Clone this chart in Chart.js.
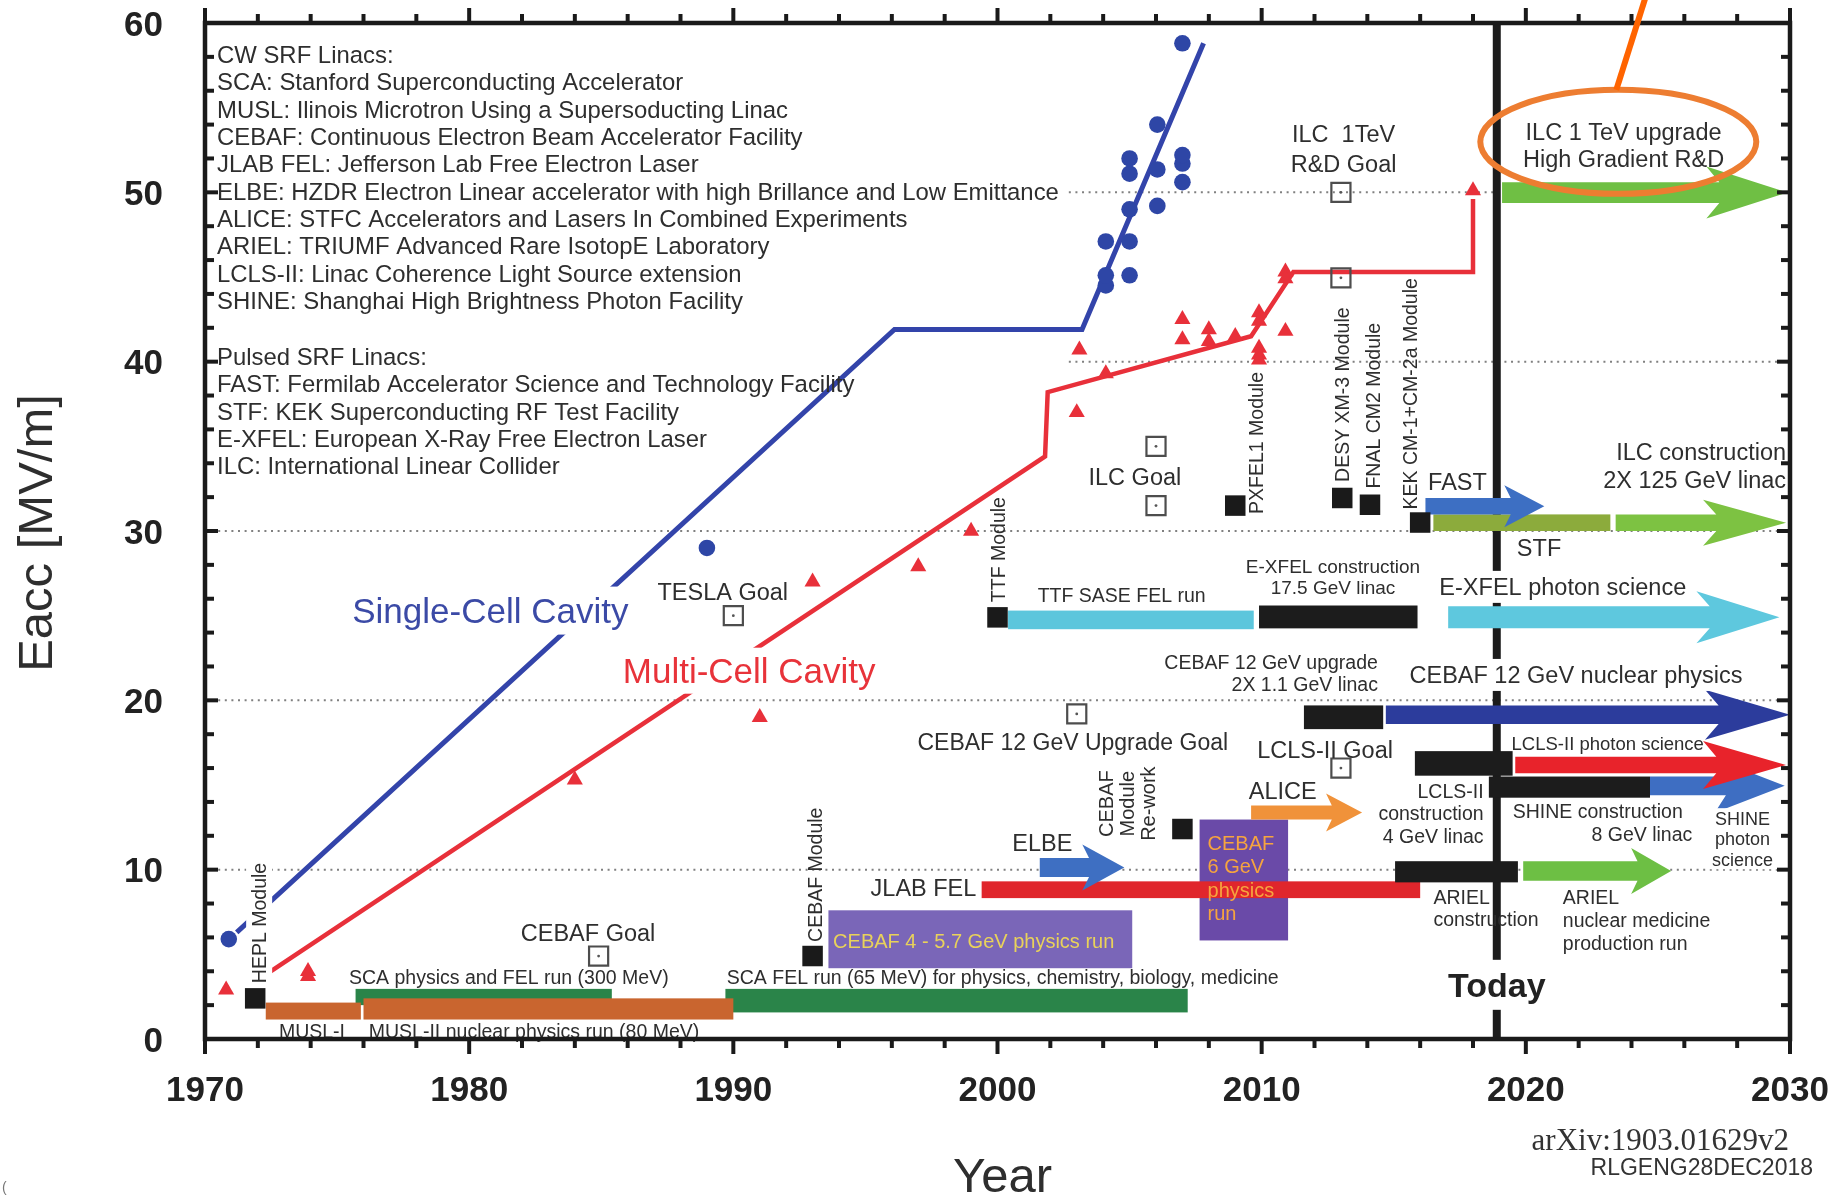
<!DOCTYPE html>
<html>
<head>
<meta charset="utf-8">
<title>SRF cavity gradient progress</title>
<script src="https://cdn.jsdelivr.net/npm/chart.js@4.4.1/dist/chart.umd.min.js"></script>
<style>
  html, body { margin: 0; padding: 0; background: #fff; }
  canvas { display: block; }
</style>
</head>
<body>
<canvas id="srfChart" width="1829" height="1197"></canvas>
<script>
// ---------- data ----------
const xTickLabels = ['1970', '1980', '1990', '2000', '2010', '2020', '2030'];
const yTickLabels = ['0', '10', '20', '30', '40', '50', '60'];
const gridFull = [10, 20, 30];
const gridRight = [40, 50];
const todayYear = 2018.9;

// single-cell cavity results (blue dots) and trend
const singleCellYear = [1970.9, 1989.0, 2004.1, 2004.1, 2004.1, 2005.0, 2005.0, 2005.0, 2005.0, 2005.0, 2006.05, 2006.05, 2006.05, 2007.0, 2007.0, 2007.0, 2007.0];
const singleCellEacc = [5.9, 29.0, 44.5, 45.1, 47.1, 45.1, 47.1, 49.0, 51.1, 52.0, 49.2, 51.35, 54.0, 50.6, 51.7, 52.2, 58.8];
const singleTrendYear = [1971.2, 1996.1, 2003.2, 2007.8];
const singleTrendEacc = [6.3, 41.9, 41.9, 58.8];

// multi-cell cavity results (red triangles) and trend
const multiCellYear = [1970.8, 1973.9, 1973.9, 1984.0, 1991.0, 1993.0, 1997.0, 1999.0, 2003.0, 2003.1, 2004.1, 2007.0, 2007.0, 2008.0, 2008.0, 2009.0, 2009.9, 2009.9, 2009.9, 2009.9, 2009.9, 2010.9, 2010.9, 2010.9];
const multiCellEacc = [2.9, 4.0, 3.7, 15.3, 19.0, 27.0, 27.9, 30.0, 37.0, 40.7, 39.3, 42.5, 41.3, 41.9, 41.2, 41.5, 42.9, 42.4, 40.8, 40.4, 40.1, 41.8, 45.3, 44.9];
const multiTrendYear = [1972.4, 2001.8, 2001.9, 2009.6, 2011.2, 2018.0, 2018.0];
const multiTrendEacc = [3.9, 34.4, 38.2, 41.5, 45.3, 45.3, 49.6];
const multiTipYear = [2018.0];
const multiTipEacc = [50.1];

// goals (open squares)
const goalYear = [1984.9, 1990.0, 2003.0, 2006.0, 2006.0, 2013.0, 2013.0, 2013.0];
const goalEacc = [4.9, 25.0, 19.2, 35.0, 31.5, 50.0, 44.95, 16.0];

// cryomodules (black squares)
const moduleYear = [1971.9, 1993.0, 2000.0, 2007.0, 2009.0, 2013.05, 2014.1, 2016.0];
const moduleEacc = [2.4, 4.9, 24.9, 12.4, 31.5, 31.95, 31.55, 30.5];

// machine runs drawn as plain bars: start, end, Eacc low, Eacc high
const barNames  = ['SCA physics', 'SCA FEL', 'MUSL-I', 'MUSL-II', 'CEBAF 4-5.7', 'CEBAF 6', 'JLAB FEL', 'TTF SASE', 'E-XFEL constr', 'CEBAF 12 upgrade', 'LCLS-II constr', 'SHINE constr', 'ARIEL constr', 'STF'];
const barStart  = [1975.7, 1989.7, 1972.3, 1976.0, 1993.6, 2007.65, 1999.4, 2000.4, 2009.9, 2011.6, 2015.8, 2018.6, 2015.05, 2016.5];
const barEnd    = [1985.4, 2007.2, 1975.9, 1990.0, 2005.1, 2011.0, 2016.0, 2009.7, 2015.9, 2014.6, 2019.5, 2024.7, 2019.7, 2023.2];
const barLow    = [2.0, 1.57, 1.15, 1.15, 4.18, 5.82, 8.32, 24.2, 24.25, 18.3, 15.55, 14.25, 9.25, 30.0];
const barHigh   = [2.96, 2.96, 2.15, 2.4, 7.6, 12.96, 9.31, 25.3, 25.6, 19.7, 17.0, 15.5, 10.5, 30.98];

// programmes drawn as arrows: start, tip, shaft low, shaft high
const arrowNames = ['ELBE', 'ALICE', 'FAST', 'ILC construction', 'E-XFEL photon science', 'CEBAF 12 GeV nuclear physics', 'SHINE photon science', 'LCLS-II photon science', 'ARIEL nuclear medicine', 'ILC 1 TeV upgrade'];
const arrowStart = [2001.6, 2009.6, 2016.2, 2023.4, 2017.06, 2014.7, 2024.7, 2019.6, 2019.9, 2019.1];
const arrowTip   = [2004.8, 2013.8, 2020.7, 2029.85, 2029.6, 2030.0, 2029.8, 2029.85, 2025.5, 2029.9];
const arrowLow   = [9.57, 12.96, 30.98, 30.0, 24.25, 18.6, 14.4, 15.69, 9.35, 49.37];
const arrowHigh  = [10.69, 13.79, 31.95, 30.98, 25.55, 19.7, 15.5, 16.67, 10.49, 50.6];

const cwLines = [
  'CW SRF Linacs:',
  'SCA: Stanford Superconducting Accelerator',
  'MUSL: Ilinois Microtron Using a Supersoducting Linac',
  'CEBAF: Continuous Electron Beam Accelerator Facility',
  'JLAB FEL: Jefferson Lab Free Electron Laser',
  'ELBE: HZDR Electron Linear accelerator with high Brillance and Low Emittance',
  'ALICE: STFC Accelerators and Lasers In Combined Experiments',
  'ARIEL: TRIUMF Advanced Rare IsotopE Laboratory',
  'LCLS-II: Linac Coherence Light Source extension',
  'SHINE: Shanghai High Brightness Photon Facility'
];
const pulsedLines = [
  'Pulsed SRF Linacs:',
  'FAST: Fermilab Accelerator Science and Technology Facility',
  'STF: KEK Superconducting RF Test Facility',
  'E-XFEL: European X-Ray Free Electron Laser',
  'ILC: International Linear Collider'
];

// ---------- styles ----------
const FONT = "'Liberation Sans', Arial, Helvetica, sans-serif";
const INK = '#2e2e2e';
const barColors = ['#2a8449', '#2a8449', '#c9652f', '#c9652f', '#7a66b8', '#6a4aa8', '#e0262c', '#5cc6dc', '#1c1c1c', '#1c1c1c', '#1c1c1c', '#1c1c1c', '#1c1c1c', '#8cab3c'];
const arrowStyle = [
  { color: '#3e6fc2', head: 42, half: 23 },
  { color: '#f0923a', head: 36, half: 19 },
  { color: '#3d6fc3', head: 40, half: 21 },
  { color: '#7dc242', head: 83, half: 23 },
  { color: '#5ec8de', head: 83, half: 26 },
  { color: '#2c3c9c', head: 85, half: 25 },
  { color: '#3e6ec2', head: 70, half: 27 },
  { color: '#e8232b', head: 83, half: 24 },
  { color: '#6dbf44', head: 40, half: 23 },
  { color: '#6fbf44', head: 81, half: 26 }
];

const labels = [
  { t: 'Single-Cell Cavity', x: 1980.8, y: 25.3, size: 35, color: '#3b4aa6', bg: true, bgH: 48 },
  { t: 'Multi-Cell Cavity', x: 1990.6, y: 21.75, size: 35, color: '#e8333a', bg: true, bgH: 46 },
  { t: 'TESLA Goal', x: 1989.6, y: 26.4 },
  { t: 'CEBAF Goal', x: 1984.5, y: 6.3 },
  { t: 'CEBAF 12 GeV Upgrade Goal', x: 2002.85, y: 17.55, size: 23 },
  { t: 'ILC Goal', x: 2005.2, y: 33.2 },
  { t: 'ILC  1TeV\nR&D Goal', x: 2013.1, y: 53.5, lh: 30 },
  { t: 'ILC 1 TeV upgrade\nHigh Gradient R&D', x: 2023.7, y: 53.6, lh: 27 },
  { t: 'TTF SASE FEL run', x: 2004.7, y: 26.25, size: 19.5 },
  { t: 'E-XFEL construction\n17.5 GeV linac', x: 2012.7, y: 27.95, size: 19, lh: 21.5 },
  { t: 'E-XFEL photon science', x: 2021.4, y: 26.7, bg: true, bgH: 32 },
  { t: 'CEBAF 12 GeV upgrade\n2X 1.1 GeV linac', x: 2014.4, y: 22.25, size: 19.5, align: 'right', lh: 21.5 },
  { t: 'CEBAF 12 GeV nuclear physics', x: 2021.9, y: 21.5, bg: true, bgH: 32 },
  { t: 'LCLS-II Goal', x: 2012.4, y: 17.1 },
  { t: 'LCLS-II photon science', x: 2023.1, y: 17.45, size: 18.5 },
  { t: 'ALICE', x: 2010.8, y: 14.65 },
  { t: 'LCLS-II\nconstruction\n4 GeV linac', x: 2018.4, y: 14.65, size: 19.5, align: 'right', lh: 22.5 },
  { t: 'SHINE construction', x: 2019.5, y: 13.47, size: 19.5, align: 'left' },
  { t: '8 GeV linac', x: 2026.3, y: 12.1, size: 19.5, align: 'right' },
  { t: 'SHINE\nphoton\nscience', x: 2028.2, y: 13.04, size: 18, lh: 20.5, bg: true, bgH: 20 },
  { t: 'ELBE', x: 2001.7, y: 11.6 },
  { t: 'JLAB FEL', x: 1999.2, y: 8.93, align: 'right' },
  { t: 'CEBAF 4 - 5.7 GeV physics run', x: 1999.1, y: 5.8, size: 20, color: '#e9d25a' },
  { t: 'CEBAF\n6 GeV\nphysics\nrun', x: 2007.95, y: 11.58, size: 20, color: '#f6a43e', align: 'left', lh: 23.3 },
  { t: 'SCA physics and FEL run (300 MeV)', x: 1981.5, y: 3.65, size: 19.5 },
  { t: 'SCA FEL run (65 MeV) for physics, chemistry, biology, medicine', x: 1989.75, y: 3.65, size: 19.5, align: 'left' },
  { t: 'MUSL-I', x: 1974.05, y: 0.5, size: 19.5 },
  { t: 'MUSL-II nuclear physics run (80 MeV)', x: 1976.2, y: 0.5, size: 19.5, align: 'left' },
  { t: 'ARIEL\nconstruction', x: 2016.5, y: 8.4, size: 19.5, align: 'left', lh: 22.7 },
  { t: 'ARIEL\nnuclear medicine\nproduction run', x: 2021.4, y: 8.4, size: 19.5, align: 'left', lh: 23 },
  { t: 'Today', x: 2018.9, y: 3.2, size: 34, bold: true, color: '#222', bg: true, bgH: 50 },
  { t: 'FAST', x: 2016.3, y: 32.9, align: 'left' },
  { t: 'STF', x: 2020.5, y: 29.0 },
  { t: 'ILC construction\n2X 125 GeV linac', x: 2029.85, y: 34.7, align: 'right', lh: 28.5 },
  { t: 'HEPL Module', x: 1972.05, y: 6.85, size: 19.5, rot: true, bg: true, bgH: 26 },
  { t: 'CEBAF Module', x: 1993.1, y: 9.7, size: 19.5, rot: true },
  { t: 'TTF Module', x: 2000.0, y: 28.9, size: 19.5, rot: true },
  { t: 'CEBAF\nModule\nRe-work', x: 2004.1, y: 13.9, size: 20, rot: true, lh: 21 },
  { t: 'PXFEL1 Module', x: 2009.8, y: 35.2, size: 19.5, rot: true },
  { t: 'DESY XM-3 Module', x: 2013.05, y: 38.05, size: 19.5, rot: true },
  { t: 'FNAL CM2 Module', x: 2014.2, y: 37.4, size: 19.5, rot: true },
  { t: 'KEK CM-1+CM-2a Module', x: 2015.6, y: 38.1, size: 19.5, rot: true }
];

// ---------- helpers ----------
function pts(xs, ys) {
  return xs.map((x, i) => ({ x: x, y: ys[i] }));
}

function drawLabel(ctx, L, px, py) {
  const size = L.size || 23.5;
  const lh = L.lh || size * 1.2;
  const lines = L.t.split('\n');
  const align = L.align || 'center';
  ctx.save();
  ctx.font = (L.bold ? 'bold ' : '') + size + 'px ' + FONT;
  ctx.textAlign = align;
  ctx.textBaseline = 'alphabetic';
  ctx.translate(px, py);
  if (L.rot) ctx.rotate(-Math.PI / 2);
  if (L.bg) {
    const w = Math.max(...lines.map(s => ctx.measureText(s).width)) + 8;
    const bh = L.bgH || size * 1.3;
    const h = bh + (lines.length - 1) * lh;
    const left = align === 'center' ? -w / 2 : align === 'right' ? -w + 4 : -4;
    ctx.fillStyle = '#fff';
    ctx.fillRect(left, -bh / 2, w, h);
  }
  ctx.fillStyle = L.color || INK;
  lines.forEach((s, i) => ctx.fillText(s, 0, i * lh + size * 0.36));
  ctx.restore();
}

function seg(ctx, x0, y0, x1, y1) {
  ctx.beginPath();
  ctx.moveTo(x0, y0);
  ctx.lineTo(x1, y1);
  ctx.stroke();
}

const timelinePlugin = {
  id: 'timeline',
  beforeDatasetsDraw(chart) {
    const { ctx, chartArea: a, scales: { x, y } } = chart;

    // dotted reference lines
    ctx.save();
    ctx.strokeStyle = '#808080';
    ctx.lineWidth = 2;
    ctx.setLineDash([2, 4.6]);
    gridFull.forEach(v => seg(ctx, a.left, y.getPixelForValue(v), a.right, y.getPixelForValue(v)));
    gridRight.forEach(v => seg(ctx, x.getPixelForValue(2002.7), y.getPixelForValue(v), a.right, y.getPixelForValue(v)));
    ctx.restore();

    // today
    ctx.save();
    ctx.strokeStyle = '#1c1c1c';
    ctx.lineWidth = 8;
    const tx = x.getPixelForValue(todayYear);
    seg(ctx, tx, a.top, tx, a.bottom);
    ctx.restore();

    // bars
    ctx.save();
    barNames.forEach((n, i) => {
      const x0 = x.getPixelForValue(barStart[i]);
      const x1 = x.getPixelForValue(barEnd[i]);
      const y0 = y.getPixelForValue(barHigh[i]);
      const y1 = y.getPixelForValue(barLow[i]);
      ctx.fillStyle = barColors[i];
      ctx.fillRect(x0, y0, x1 - x0, y1 - y0);
    });
    ctx.restore();

    // arrows
    ctx.save();
    arrowNames.forEach((n, i) => {
      const st = arrowStyle[i];
      const x0 = x.getPixelForValue(arrowStart[i]);
      const x1 = x.getPixelForValue(arrowTip[i]);
      const yt = y.getPixelForValue(arrowHigh[i]);
      const yb = y.getPixelForValue(arrowLow[i]);
      const yc = (yt + yb) / 2;
      const xh = x1 - st.head;
      const sweep = st.head * 0.16;
      ctx.fillStyle = st.color;
      ctx.beginPath();
      ctx.moveTo(x0, yt);
      ctx.lineTo(xh + sweep, yt);
      ctx.lineTo(xh, yc - st.half);
      ctx.lineTo(x1, yc);
      ctx.lineTo(xh, yc + st.half);
      ctx.lineTo(xh + sweep, yb);
      ctx.lineTo(x0, yb);
      ctx.closePath();
      ctx.fill();
    });
    ctx.restore();
  },

  afterDatasetsDraw(chart) {
    const { ctx, chartArea: a, scales: { x, y } } = chart;

    labels.forEach(L => drawLabel(ctx, L, x.getPixelForValue(L.x), y.getPixelForValue(L.y)));

    // acronym list
    ctx.save();
    ctx.font = '23.9px ' + FONT;
    ctx.fillStyle = INK;
    ctx.textAlign = 'left';
    const lineGap = 27.3;
    cwLines.forEach((s, i) => ctx.fillText(s, a.left + 12, y.getPixelForValue(58.13) + i * lineGap + 8.5));
    pulsedLines.forEach((s, i) => ctx.fillText(s, a.left + 12, y.getPixelForValue(40.3) + i * lineGap + 8.5));
    ctx.restore();

    // frame and ticks
    ctx.save();
    ctx.strokeStyle = '#1a1a1a';
    ctx.lineWidth = 4;
    for (let yr = 1970; yr <= 2030; yr += 2) {
      const px = x.getPixelForValue(yr);
      const len = yr % 10 === 0 ? 15 : 9;
      seg(ctx, px, a.bottom, px, a.bottom + len);
      seg(ctx, px, a.top, px, a.top - len);
    }
    for (let v = 0; v <= 60; v += 2) {
      const py = y.getPixelForValue(v);
      const len = v % 10 === 0 ? 13 : 9;
      seg(ctx, a.left, py, a.left + len, py);
      seg(ctx, a.right, py, a.right - len, py);
    }
    ctx.lineWidth = 4.5;
    ctx.strokeRect(a.left, a.top, a.right - a.left, a.bottom - a.top);

    ctx.fillStyle = '#222';
    ctx.font = 'bold 35px ' + FONT;
    ctx.textAlign = 'center';
    xTickLabels.forEach(t => ctx.fillText(t, x.getPixelForValue(+t), a.bottom + 62));
    ctx.textAlign = 'right';
    yTickLabels.forEach(t => ctx.fillText(t, a.left - 42, y.getPixelForValue(+t) + 12.6));

    // axis titles
    ctx.fillStyle = INK;
    ctx.font = '49px ' + FONT;
    ctx.textAlign = 'center';
    ctx.fillText('Year', (a.left + a.right) / 2 + 5, 1192);
    ctx.save();
    ctx.translate(52, 533);
    ctx.rotate(-Math.PI / 2);
    ctx.fillText('Eacc [MV/m]', 0, 0);
    ctx.restore();
    ctx.restore();

    // highlight ellipse and pointer
    ctx.save();
    const ex = x.getPixelForValue(2023.5);
    const ey = y.getPixelForValue(52.98);
    ctx.strokeStyle = '#ed7d31';
    ctx.lineWidth = 6;
    ctx.beginPath();
    ctx.ellipse(ex, ey, 138, 52, 0, 0, Math.PI * 2);
    ctx.stroke();
    ctx.strokeStyle = '#ff6400';
    seg(ctx, ex - 2, ey - 52, ex + 27, -2);
    ctx.restore();

    // source notes
    ctx.save();
    ctx.fillStyle = '#333';
    ctx.textAlign = 'right';
    ctx.font = "31px 'Liberation Serif', 'Times New Roman', serif";
    ctx.fillText('arXiv:1903.01629v2', 1789, 1150);
    ctx.font = '23px ' + FONT;
    ctx.fillText('RLGENG28DEC2018', 1813, 1175);
    ctx.textAlign = 'left';
    ctx.font = '14px ' + FONT;
    ctx.fillStyle = '#777';
    ctx.fillText('(', 2, 1192);
    ctx.restore();
  }
};

const ctx = document.getElementById('srfChart').getContext('2d');
const chart = new Chart(ctx, {
  type: 'scatter',
  data: {
    datasets: [
      { label: 'Single-cell', data: pts(singleCellYear, singleCellEacc), pointStyle: 'circle', pointRadius: 8.3, backgroundColor: '#2e46a6', borderWidth: 0, order: 1 },
      { label: 'Multi-cell', data: pts(multiCellYear, multiCellEacc), pointStyle: 'triangle', pointRadius: 9.3, backgroundColor: '#e8303a', borderWidth: 0, order: 1 },
      { label: 'Multi-cell tip', data: pts(multiTipYear, multiTipEacc), pointStyle: 'triangle', pointRadius: 9.3, backgroundColor: '#e8303a', borderWidth: 0, order: 1 },
      { label: 'Goal centre', data: pts(goalYear, goalEacc), pointStyle: 'circle', pointRadius: 1.4, backgroundColor: '#555', borderWidth: 0, order: 2 },
      { label: 'Goals', data: pts(goalYear, goalEacc), pointStyle: 'rect', pointRadius: 13.5, backgroundColor: 'rgba(0,0,0,0)', borderColor: '#4d4d4d', borderWidth: 2.2, order: 3 },
      { label: 'Modules', data: pts(moduleYear, moduleEacc), pointStyle: 'rect', pointRadius: 14.5, backgroundColor: '#1a1a1a', borderWidth: 0, order: 4 },
      { label: 'Single-cell trend', data: pts(singleTrendYear, singleTrendEacc), showLine: true, pointRadius: 0, borderColor: '#3344aa', borderWidth: 5, tension: 0, order: 10 },
      { label: 'Multi-cell trend', data: pts(multiTrendYear, multiTrendEacc), showLine: true, pointRadius: 0, borderColor: '#e8303a', borderWidth: 4.5, tension: 0, order: 10 }
    ]
  },
  options: {
    responsive: false,
    animation: false,
    layout: { padding: { left: 205, right: 39, top: 23, bottom: 158 } },
    scales: {
      x: { type: 'linear', min: 1970, max: 2030, display: false },
      y: { type: 'linear', min: 0, max: 60, display: false }
    },
    plugins: { legend: { display: false }, tooltip: { enabled: false } }
  },
  plugins: [timelinePlugin]
});
</script>
</body>
</html>
